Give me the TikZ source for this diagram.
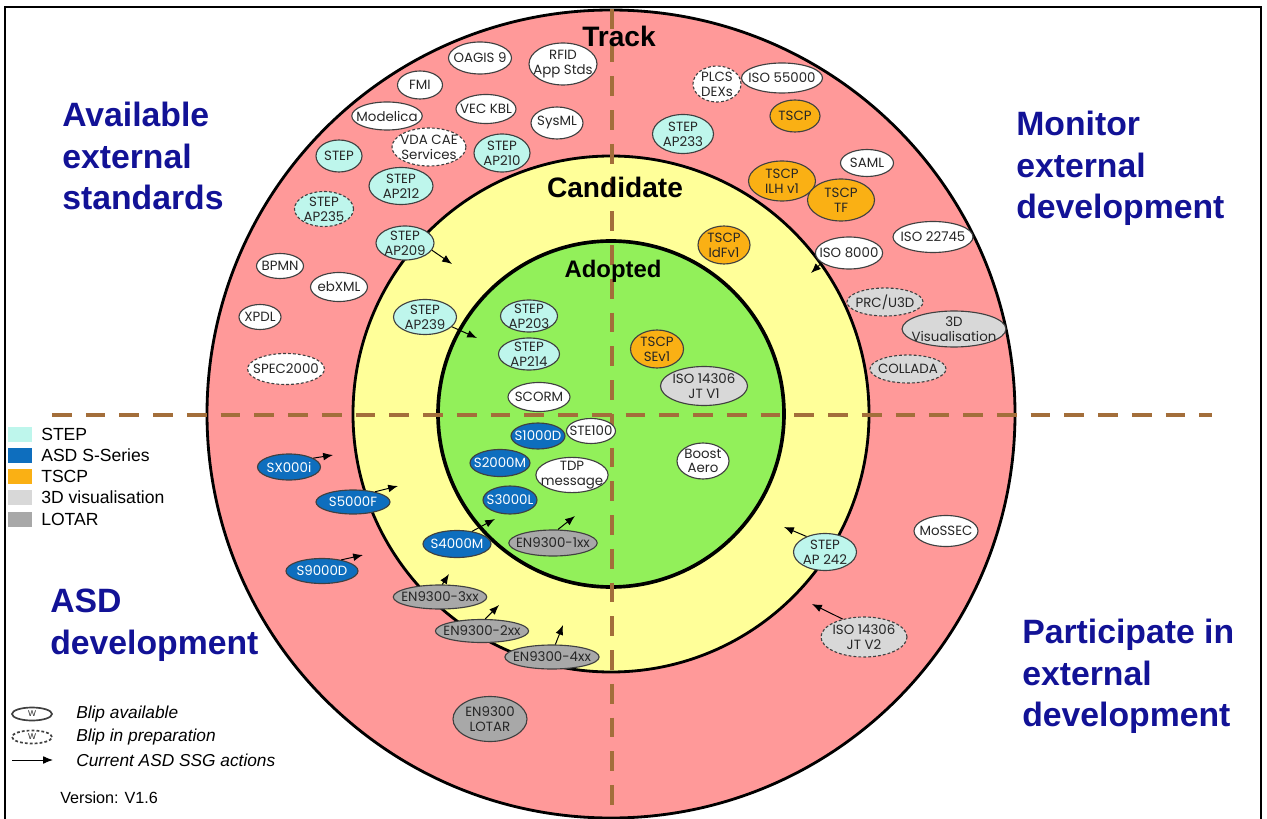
\documentclass[tikz,border=0pt]{standalone}
\usepackage{fontspec}
\setmainfont{Liberation Sans}
\newfontfamily\blipfont{Poppins}
\usetikzlibrary{shapes.geometric,arrows.meta}

\definecolor{outerring}{RGB}{255,153,153}
\definecolor{midring}{RGB}{255,255,153}
\definecolor{innerring}{RGB}{146,240,90}
\definecolor{stepcol}{RGB}{190,246,236}
\definecolor{asdcol}{RGB}{14,110,190}
\definecolor{tscpcol}{RGB}{250,176,20}
\definecolor{vizcol}{RGB}{216,216,216}
\definecolor{lotarcol}{RGB}{168,168,168}
\definecolor{quadblue}{RGB}{18,18,150}
\definecolor{axisbrown}{RGB}{163,110,58}

\tikzset{
  blip/.style={ellipse, draw=black!75, line width=0.8pt, inner xsep=-4pt, inner ysep=-1pt,
    align=center, text=black!85, font=\blipfont\fontsize{9.5}{10.5}\selectfont},
  sz/.style 2 args={minimum width=#1*0.025cm, minimum height=#2*0.025cm},
  avail/.style={blip, fill=white},
  prep/.style={dash pattern=on 2pt off 1.5pt},
  stepblip/.style={blip, fill=stepcol},
  asdblip/.style={blip, fill=asdcol, text=white},
  tscpblip/.style={blip, fill=tscpcol},
  vizblip/.style={blip, fill=vizcol},
  lotarblip/.style={blip, fill=lotarcol},
  action/.style={-{Latex[length=7pt,width=5.5pt]}, line width=0.7pt},
  quad/.style={anchor=north west, align=left, inner sep=0pt, text=quadblue,
    font=\bfseries\fontsize{24}{29.5}\selectfont},
  ringlabel/.style={inner sep=0pt, font=\bfseries\fontsize{#1}{#1}\selectfont},
  swatch/.style={minimum width=24*0.025cm, minimum height=15*0.025cm, inner sep=0pt},
  legtext/.style={anchor=west, inner sep=0pt, font=\fontsize{12.5}{14}\selectfont},
  keytext/.style={anchor=west, inner sep=0pt, font=\itshape\fontsize{12.3}{14}\selectfont},
}

\begin{document}
\begin{tikzpicture}[x=0.025cm, y=-0.025cm]
  \useasboundingbox (0,0) rectangle (1267,819);

  % Rings
  \fill[outerring] (611,414) circle [radius=404];
  \draw[line width=2pt] (611,414) circle [radius=404];
  \filldraw[fill=midring, line width=2pt] (611,414) circle [radius=258];
  \filldraw[fill=innerring, line width=2.6pt] (611,414) circle [radius=173];

  % Quadrant axes
  \draw[axisbrown, line width=3.5pt, dash pattern=on 14pt off 10pt] (612,9) -- (612,819);
  \draw[axisbrown, line width=3.5pt, dash pattern=on 14pt off 10pt] (52,415) -- (1212,415);

  % Ring names
  \node[ringlabel=20] (track) at (619,36) {Track};
  \node[ringlabel=20] (candidate) at (615,187) {Candidate};
  \node[ringlabel=17] (adopted) at (613,271) {Adopted};

  % Quadrant names
  \node[quad] (qavail) at (62,102) {Available\\external\\standards};
  \node[quad] (qmonitor) at (1016,111) {Monitor\\external\\development};
  \node[quad] (qasd) at (50,589) {ASD\\development};
  \node[quad] (qpart) at (1022,619) {Participate in\\external\\development};

  % Track, top left
  \node[avail, sz={63}{32}] (oagis) at (480,58) {OAGIS 9};
  \node[avail, sz={66}{42}] (rfid) at (563,64) {RFID\\App Stds};
  \node[avail, sz={45}{28}] (fmi) at (420,85) {FMI};
  \node[avail, sz={60}{29}] (veckbl) at (486,109) {VEC KBL};
  \node[avail, sz={70}{28}] (modelica) at (387,116) {Modelica};
  \node[avail, sz={52}{32}] (sysml) at (557,123) {SysML};
  \node[avail, prep, sz={74}{38}] (vdacae) at (429,147) {VDA CAE\\Services};
  \node[stepblip, sz={46}{32}] (stepgen) at (339,156) {STEP};
  \node[stepblip, sz={56}{38}] (ap210) at (502,153) {STEP\\AP210};
  \node[stepblip, sz={64}{37}] (ap212) at (401,186) {STEP\\AP212};
  \node[stepblip, prep, sz={59}{35}] (ap235) at (324,209) {STEP\\AP235};
  \node[stepblip, sz={58}{34}] (ap209) at (405,243) {STEP\\AP209};
  \node[avail, sz={47}{25}] (bpmn) at (280,266) {BPMN};
  \node[avail, sz={57}{29}] (ebxml) at (339,287) {ebXML};
  \node[avail, sz={42}{25}] (xpdl) at (260,317) {XPDL};
  \node[avail, prep, sz={74}{31}] (spec) at (286,369) {SPEC2000};
  \node[stepblip, sz={63}{35}] (ap239) at (425,317) {STEP\\AP239};
  \node[stepblip, sz={57}{32}] (ap203) at (529,316) {STEP\\AP203};
  \node[stepblip, sz={61}{32}] (ap214) at (529,354) {STEP\\AP214};
  \node[avail, sz={62}{29}] (scorm) at (539,397) {SCORM};

  % Track, top right
  \node[avail, prep, sz={48}{36}] (plcs) at (717,84) {PLCS\\DEXs};
  \node[avail, sz={81}{30}] (iso55000) at (782,78) {ISO 55000};
  \node[tscpblip, sz={50}{32}] (tscp) at (795,116) {TSCP};
  \node[stepblip, sz={61}{39}] (ap233) at (683,134) {STEP\\AP233};
  \node[avail, sz={53}{27}] (saml) at (867,163) {SAML};
  \node[tscpblip, sz={67}{40}] (ilh) at (782,181) {TSCP\\ILH v1};
  \node[tscpblip, sz={67}{42}] (tf) at (841,200) {TSCP\\TF};
  \node[avail, sz={80}{31}] (iso22745) at (933,237) {ISO 22745};
  \node[avail, sz={67}{32}] (iso8000) at (849,253) {ISO 8000};
  \node[tscpblip, sz={52}{38}] (idf) at (724,245) {TSCP\\IdFv1};
  \node[vizblip, prep, sz={76}{28}] (prc) at (885,302) {PRC/U3D};
  \node[vizblip, sz={89}{36}] (viz3d) at (954,329) {3D\\Visualisation};
  \node[vizblip, prep, sz={76}{28}] (collada) at (908,369) {COLLADA};
  \node[tscpblip, sz={53}{38}] (sev1) at (657,349) {TSCP\\SEv1};
  \node[vizblip, sz={87}{39}] (jtv1) at (704,386) {ISO 14306\\JT V1};

  % ASD development
  \node[asdblip, sz={54}{26}] (s1000d) at (538,436) {S1000D};
  \node[avail, sz={49}{25}] (ste100) at (591,431) {STE100};
  \node[asdblip, sz={60}{27}] (s2000m) at (500,463) {S2000M};
  \node[avail, sz={60}{33}] (tdp) at (572,475) {TDP\\message};
  \node[asdblip, sz={54}{28}] (s3000l) at (510,500) {S3000L};
  \node[lotarblip, sz={86}{26}] (en1xx) at (553,543) {EN9300-1xx};
  \node[asdblip, sz={68}{27}] (s4000m) at (457,544) {S4000M};
  \node[asdblip, sz={63}{26}] (sx000i) at (289,467) {SX000i};
  \node[asdblip, sz={74}{24}] (s5000f) at (353,502) {S5000F};
  \node[asdblip, sz={72}{25}] (s9000d) at (322,571) {S9000D};
  \node[lotarblip, sz={88}{24}] (en3xx) at (440,597) {EN9300-3xx};
  \node[lotarblip, sz={88}{23}] (en2xx) at (482,631) {EN9300-2xx};
  \node[lotarblip, sz={88}{24}] (en4xx) at (552,657) {EN9300-4xx};
  \node[lotarblip, sz={74}{45}] (enlotar) at (490,719) {EN9300\\LOTAR};

  % Participate, bottom right
  \node[avail, sz={52}{36}] (boost) at (703,461) {Boost\\Aero};
  \node[stepblip, sz={63}{37}] (ap242) at (825,552) {STEP\\AP 242};
  \node[avail, sz={64}{31}] (mossec) at (946,531) {MoSSEC};
  \node[vizblip, prep, sz={86}{40}] (jtv2) at (864,637) {ISO 14306\\JT V2};

  % Current actions
  \coordinate (t209) at (452,264);
  \coordinate (t239) at (477,338);
  \coordinate (t8000) at (811,273);
  \coordinate (tsx) at (333,455);
  \coordinate (t5000) at (398,486);
  \coordinate (t9000) at (363,555);
  \coordinate (t4000) at (495,519);
  \coordinate (t1xx) at (575,516);
  \coordinate (t3xx) at (449,574);
  \coordinate (t2xx) at (499,605);
  \coordinate (t4xx) at (563,625);
  \coordinate (t242) at (784,527);
  \coordinate (tjt) at (812,604);
  \draw[action] (ap209.-15) -- (t209);
  \draw[action] (ap239.-20) -- (t239);
  \draw[action] (iso8000.-160) -- (t8000);
  \draw[action] (sx000i.20) -- (tsx);
  \draw[action] (s5000f.25) -- (t5000);
  \draw[action] (s9000d.30) -- (t9000);
  \draw[action] (s4000m.40) -- (t4000);
  \draw[action] (en1xx.70) -- (t1xx);
  \draw[action] (en3xx.80) -- (t3xx);
  \draw[action] (en2xx.75) -- (t2xx);
  \draw[action] (en4xx.75) -- (t4xx);
  \draw[action] (ap242.140) -- (t242);
  \draw[action] (jtv2.140) -- (tjt);

  % Colour key
  \node[swatch, fill=stepcol] (kstep) at (20,434) {};
  \node[swatch, fill=asdcol] (kasd) at (20,455) {};
  \node[swatch, fill=tscpcol] (ktscp) at (20,476) {};
  \node[swatch, fill=vizcol] (kviz) at (20,497) {};
  \node[swatch, fill=lotarcol] (klotar) at (20,519) {};
  \node[legtext] (lstep) at (41,434) {STEP};
  \node[legtext] (lasd) at (41,455) {ASD S-Series};
  \node[legtext] (ltscp) at (41,476) {TSCP};
  \node[legtext] (lviz) at (41,497) {3D visualisation};
  \node[legtext] (llotar) at (41,519) {LOTAR};

  % Blip key
  \node[avail, line width=1.2pt, sz={40}{13}, font=\fontsize{6}{6}\selectfont] (kavail) at (32,714) {W};
  \node[avail, prep, line width=1.2pt, sz={40}{13}, font=\fontsize{6}{6}\selectfont] (kprep) at (32,737) {W};
  \coordinate (karrs) at (12,760);
  \coordinate (karre) at (53,760);
  \draw[action] (karrs) -- (karre);
  \node[keytext] (lavail) at (76,714) {Blip available};
  \node[keytext] (lprep) at (76,737) {Blip in preparation};
  \node[keytext] (lact) at (76,760) {Current ASD SSG actions};
  \node[legtext, font=\fontsize{11.5}{13}\selectfont] (version) at (60,798) {Version: V1.6};

  % Frame
  \draw[line width=1.5pt] (5,822) -- (5,7) -- (1261,7) -- (1261,822);
\end{tikzpicture}
\end{document}
